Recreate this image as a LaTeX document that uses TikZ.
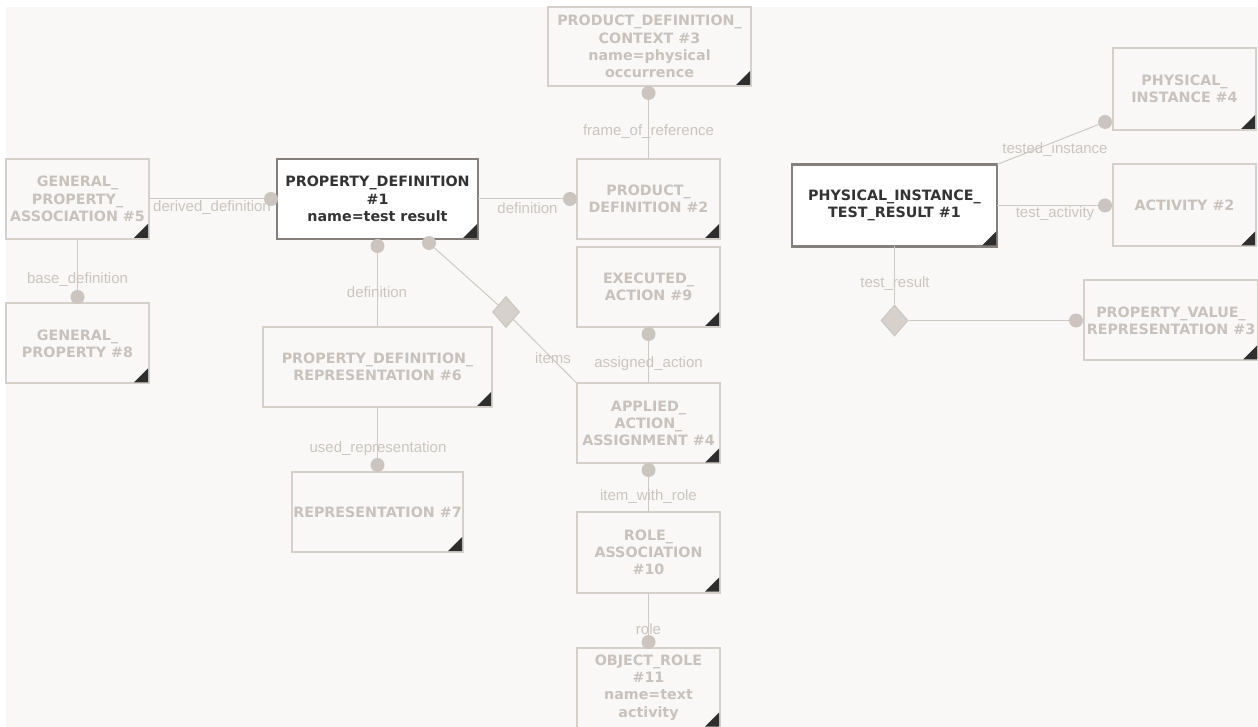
\documentclass[tikz,border=0pt]{standalone}
\usepackage{fontspec}
\setmainfont{Liberation Sans}
\newfontfamily\entfont{DejaVu Sans}
\usetikzlibrary{shapes.geometric}

\definecolor{bgc}{RGB}{249,248,246}
\definecolor{entline}{RGB}{214,208,203}
\definecolor{enttext}{RGB}{201,194,188}
\definecolor{selline}{RGB}{133,128,123}
\definecolor{seltext}{RGB}{51,51,51}
\definecolor{cornerc}{RGB}{46,46,46}
\definecolor{relline}{RGB}{207,201,196}
\definecolor{reltext}{RGB}{203,197,191}
\definecolor{dotc}{RGB}{204,197,191}
\definecolor{diac}{RGB}{214,209,205}

\tikzset{
  ent/.style={draw=entline, line width=1.5pt, fill=bgc, outer sep=0pt, inner sep=1pt,
    align=center, text=enttext, font=\entfont\bfseries\fontsize{10.7}{12.9}\selectfont,
    minimum width=107.25pt, minimum height=60pt},
  entsel/.style={ent, draw=selline, line width=1.75pt, fill=white, text=seltext},
  rel/.style={draw=relline, line width=0.75pt},
  rellabel/.style={text=reltext, font=\fontsize{11.25}{13}\selectfont, inner sep=0pt},
  dot/.style={circle, fill=dotc, inner sep=0pt, minimum size=10.5pt},
  dia/.style={diamond, draw=dotc, fill=diac, line width=0.75pt, inner sep=0pt,
    minimum width=20.25pt, minimum height=23.25pt},
}

\begin{document}
\begin{tikzpicture}[x=0.75pt,y=0.75pt,yscale=-1,xscale=1]
\useasboundingbox (0,0) rectangle (1258,727);
\clip (0,0) rectangle (1258,727);
\fill[bgc] (6,7) rectangle (1258,727);

%Entities
\node[ent] (gpa5) at (77.5,199) {GENERAL\_\\PROPERTY\_\\ASSOCIATION \#5};
\node[ent] (gp8) at (77.5,343.5) {GENERAL\_\\PROPERTY \#8};
\node[entsel, minimum width=150.75pt] (pd1) at (377.5,199) {PROPERTY\_DEFINITION\\\#1\\name=test result};
\node[ent, minimum width=152.25pt, minimum height=59.25pt] (pdc3) at (649.5,46.5) {PRODUCT\_DEFINITION\_\\CONTEXT \#3\\name=physical\\occurrence};
\node[ent] (pd2) at (648.5,199) {PRODUCT\_\\DEFINITION \#2};
\node[ent] (ea9) at (648.5,287) {EXECUTED\_\\ACTION \#9};
\node[ent] (aaa4) at (648.5,423.5) {APPLIED\_\\ACTION\_\\ASSIGNMENT \#4};
\node[ent] (ra10) at (648.5,552.5) {ROLE\_\\ASSOCIATION\\\#10};
\node[ent] (or11) at (648.5,687.5) {OBJECT\_ROLE\\\#11\\name=text\\activity};
\node[ent, minimum width=171.75pt] (pdr6) at (377.5,367) {PROPERTY\_DEFINITION\_\\REPRESENTATION \#6};
\node[ent, minimum width=128.25pt] (rep7) at (377.5,512) {REPRESENTATION \#7};
\node[entsel, minimum width=153.75pt, minimum height=61.5pt] (pitr1) at (894.5,205.5) {PHYSICAL\_INSTANCE\_\\TEST\_RESULT \#1};
\node[ent, minimum height=61.5pt] (pi4) at (1184.5,89) {PHYSICAL\_\\INSTANCE \#4};
\node[ent, minimum height=61.5pt] (act2) at (1184.5,205.5) {ACTIVITY \#2};
\node[ent, minimum width=130.5pt] (pvr3) at (1171,320.5) {PROPERTY\_VALUE\_\\REPRESENTATION \#3};

%Corner marks
\foreach \n in {gpa5,gp8,pd1,pdc3,pd2,ea9,aaa4,ra10,or11,pdr6,rep7,pitr1,pi4,act2,pvr3}
  \fill[cornerc] ([shift={(-1,-1)}]\n.south east) -- ++(-14,0) -- ++(14,-14) -- cycle;

%Role ends
\node[dot] (derdef) at (271,199) {};
\node[dot] (basedef) at (77.5,297) {};
\node[dot] (defpd2) at (570,199) {};
\node[dot] (frame) at (648.5,93) {};
\node[dot] (defpdr) at (377.5,246) {};
\node[dot] (itemsd) at (429,243) {};
\node[dot] (assigned) at (648.5,334) {};
\node[dot] (itemrole) at (648.5,470) {};
\node[dot] (roled) at (648.5,642) {};
\node[dot] (usedrep) at (377.5,465) {};
\node[dot] (tested) at (1105,122) {};
\node[dot] (testact) at (1105,205.5) {};
\node[dot] (testres) at (1076,320.5) {};
\node[dia] (dm1) at (506,312) {};
\node[dia] (dm2) at (894.5,320.5) {};

%Straight Lines
\draw[rel] (gpa5.east) -- (derdef);
\draw[rel] (gpa5.south) -- (basedef);
\draw[rel] (pd1.east) -- (defpd2);
\draw[rel] (frame) -- (pd2.north);
\draw[rel] (defpdr) -- (pdr6.north);
\draw[rel] (itemsd) -- (dm1) -- (aaa4.north west);
\draw[rel] (assigned) -- (aaa4.north);
\draw[rel] (itemrole) -- (ra10.north);
\draw[rel] (ra10.south) -- (roled);
\draw[rel] (pdr6.south) -- (usedrep);
\draw[rel] (pitr1.north east) -- (tested);
\draw[rel] (pitr1.east) -- (testact);
\draw[rel] (pitr1.south) -- (dm2) -- (testres);

% Text Node
\node[rellabel] (lderdef) at (212,208) {derived\_definition};
\node[rellabel] (lbasedef) at (77.5,280) {base\_definition};
\node[rellabel] (ldefpd2) at (527.5,208) {definition};
\node[rellabel] (lframe) at (648.5,132) {frame\_of\_reference};
\node[rellabel] (ldefpdr) at (377,292) {definition};
\node[rellabel] (litems) at (553,358) {items};
\node[rellabel] (lassigned) at (648.5,364) {assigned\_action};
\node[rellabel] (litemrole) at (648.5,497) {item\_with\_role};
\node[rellabel] (lrole) at (648.5,629) {role};
\node[rellabel] (lusedrep) at (378,449) {used\_representation};
\node[rellabel] (ltested) at (1055,150) {tested\_instance};
\node[rellabel] (ltestact) at (1055,214) {test\_activity};
\node[rellabel] (ltestres) at (895,284) {test\_result};

\end{tikzpicture}
\end{document}
